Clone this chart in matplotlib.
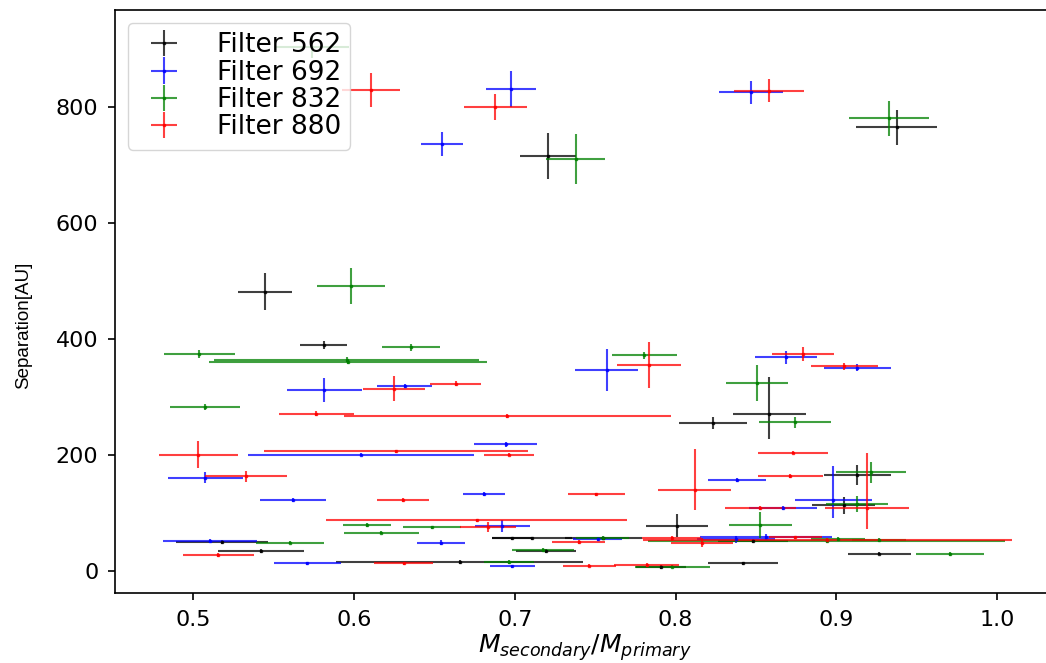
import numpy as np
import matplotlib.pyplot as plt

# -----------------------------------------------
# DATA

filters = ["Filter 562", "Filter 692", "Filter 832", "Filter 880"]
colors = ["k", "b", "g", "r"]

# Filter 562
x_562 = [0.7208, 0.9378, 0.5445, 0.5812, 0.8583, 0.8231, 0.8007, 0.9131, 0.9046, 0.5179,
         0.5418, 0.6656, 0.6980, 0.7108, 0.7550, 0.7194, 0.7907, 0.8419, 0.8484, 0.9268]
y_562 = [715, 765, 481, 390, 270, 255, 78, 166, 113, 50,
         34, 15.5, 56, 56, 56, 34.5, 7, 13, 52, 30]
xerr_562 = [0.0173, 0.0252, 0.0167, 0.0146, 0.0226, 0.0212, 0.0192, 0.0207, 0.0197, 0.0288,
            0.0268, 0.0767, 0.0124, 0.0249, 0.0239, 0.0185, 0.0156, 0.0216, 0.0218, 0.0197]
ylo_562 = [40, 30, 32, 7, 43, 10, 20, 17, 14, 3, 3, 3, 3, 3, 3, 3, 3, 3, 3, 3]
yhi_562 = [40, 30, 32, 7, 64, 10, 20, 17, 14, 3, 3, 3, 3, 3, 3, 3, 3, 3, 3, 3]

# Filter 692
x_692 = [0.6545, 0.6976, 0.8468, 0.5814, 0.6314, 0.7571, 0.8688, 0.9131, 0.6040, 0.5075,
         0.5618, 0.5103, 0.6541, 0.5709, 0.6943, 0.6806, 0.8380, 0.8670, 0.8981, 0.8376,
         0.8561, 0.6923, 0.7515, 0.6984]
y_692 = [736, 830, 825, 312, 319, 347, 368, 350, 200.5, 161,
         122, 52, 49, 13, 218, 133, 157, 108.6, 122, 55,
         58, 78, 55, 8]
xerr_692 = [0.0130, 0.0154, 0.0198, 0.0232, 0.0169, 0.0195, 0.0194, 0.0207, 0.0703, 0.0235,
            0.0206, 0.0290, 0.0152, 0.0208, 0.0197, 0.0130, 0.0180, 0.0212, 0.0240, 0.0241,
            0.0410, 0.0171, 0.0152, 0.0140]
ylo_692 = [21, 31, 20, 21, 4, 36, 12, 6, 3, 9.5, 3, 3, 4, 3, 5, 3, 3, 3, 30, 6, 6, 10, 3, 3]
yhi_692 = [21, 31, 20, 21, 4, 36, 12, 6, 3, 9.5, 3, 3, 4, 3, 5, 3, 3, 3, 59, 6, 6, 10, 3, 3]

# Filter 832
x_832 = [0.5740, 0.7378, 0.9328, 0.5980, 0.6353, 0.5036, 0.5953, 0.5960, 0.5070, 0.7805,
         0.8505, 0.8743, 0.9216, 0.9129, 0.8528, 0.6080, 0.6483, 0.6169, 0.5600, 0.7546,
         0.7177, 0.6965, 0.7980, 0.8940, 0.9012, 0.9268, 0.9709]
y_832 = [903, 710, 780, 491, 386, 374, 364, 360, 282, 372,
         324, 256, 170, 115.5, 79, 79, 75, 66, 49, 57,
         36, 15.5, 7.5, 52, 55, 53, 29]
xerr_832 = [0.0227, 0.0186, 0.0251, 0.0210, 0.0182, 0.0221, 0.0826, 0.0864, 0.0217, 0.0201,
            0.0192, 0.0222, 0.0220, 0.0195, 0.0194, 0.0149, 0.0180, 0.0234, 0.0212, 0.0163,
            0.0194, 0.0156, 0.0235, 0.1110, 0.0166, 0.0168, 0.0213]
ylo_832 = [18, 43, 30, 31, 6, 7, 4, 4, 5, 6, 31, 10, 18, 13.5, 23, 3, 3, 3, 3, 4, 3, 3, 3, 3, 3, 3, 3]
yhi_832 = [18, 43, 30, 31, 6, 7, 4, 4, 5, 6, 31, 10, 18, 13.5, 23, 3, 3, 3, 3, 4, 3, 3, 3, 3, 3, 3, 3]

# Filter 880
x_880 = [0.6105, 0.6878, 0.8583, 0.6250, 0.6632, 0.5764, 0.6954, 0.7834, 0.8793, 0.9050,
         0.5031, 0.6262, 0.5327, 0.6304, 0.6762, 0.5156, 0.6309, 0.6963, 0.7507, 0.8119,
         0.8732, 0.8714, 0.8527, 0.9190, 0.6833, 0.7399, 0.7976, 0.8166, 0.8745, 0.8945,
         0.7463, 0.7820]
y_880 = [829, 800, 828, 314, 323, 271, 267, 355, 374, 353,
         200.5, 206, 163, 122, 87, 27.6, 13, 200.5, 132, 139,
         204, 164, 108.6, 108.6, 75, 50, 56, 49, 58, 53,
         9, 10]
xerr_880 = [0.0180, 0.0195, 0.0217, 0.0194, 0.0160, 0.0233, 0.1016, 0.0199, 0.0191, 0.0207,
            0.0246, 0.0823, 0.0255, 0.0160, 0.0938, 0.0223, 0.0184, 0.0154, 0.0176, 0.0227,
            0.0219, 0.0201, 0.0220, 0.0263, 0.0174, 0.0165, 0.0184, 0.0192, 0.0166, 0.1146,
            0.0166, 0.0202]
ylo_880 = [30, 23, 19.5, 21.5, 4, 4, 3, 39, 12, 6, 23, 3, 10, 3, 3, 3, 3, 3, 3, 34,
           3, 3, 3, 36, 8.6, 3, 4, 7, 3, 3, 3, 3]
yhi_880 = [30, 23, 19.5, 21.5, 4, 4, 3, 39, 12, 6, 23, 3, 10, 3, 3, 3, 3, 3, 3, 71,
           3, 3, 3, 95, 8.6, 3, 4, 7, 3, 3, 3, 3]

xs = [x_562, x_692, x_832, x_880]
ys = [y_562, y_692, y_832, y_880]
xerrs = [xerr_562, xerr_692, xerr_832, xerr_880]
ylos = [ylo_562, ylo_692, ylo_832, ylo_880]
yhis = [yhi_562, yhi_692, yhi_832, yhi_880]

# -----------------------------------------------
# PLOT

fig = plt.figure(figsize=(10.46, 6.63), dpi=100)
ax = fig.add_axes([115 / 1046, 70 / 663, 939 / 1046, 583 / 663])

for n in range(4):
  ax.errorbar(xs[n], ys[n], xerr=xerrs[n], yerr=[ylos[n], yhis[n]],
              fmt='s', ms=2, color=colors[n], elinewidth=1.5, alpha=0.75,
              label=filters[n])

ax.set_xlim(0.4512, 1.0355)
ax.set_ylim(-38, 967)
ax.set_xticks([0.5, 0.6, 0.7, 0.8, 0.9, 1.0])
ax.set_yticks([0, 200, 400, 600, 800])
ax.tick_params(labelsize=16, length=5, width=1.2, pad=7)
for s in ax.spines.values():
  s.set_linewidth(1.2)

ax.set_xlabel(r'$M_{secondary}/M_{primary}$', fontsize=18, labelpad=2)
ax.set_ylabel('Separation[AU]', fontsize=13.5, family=['Liberation Sans', 'DejaVu Sans'])
ax.yaxis.set_label_coords(-0.088, 0.46)

ax.legend(loc='upper left', fontsize=19, labelspacing=0.05, borderpad=0.35,
          handletextpad=1.0)

fig.savefig('out.png', dpi=100)
